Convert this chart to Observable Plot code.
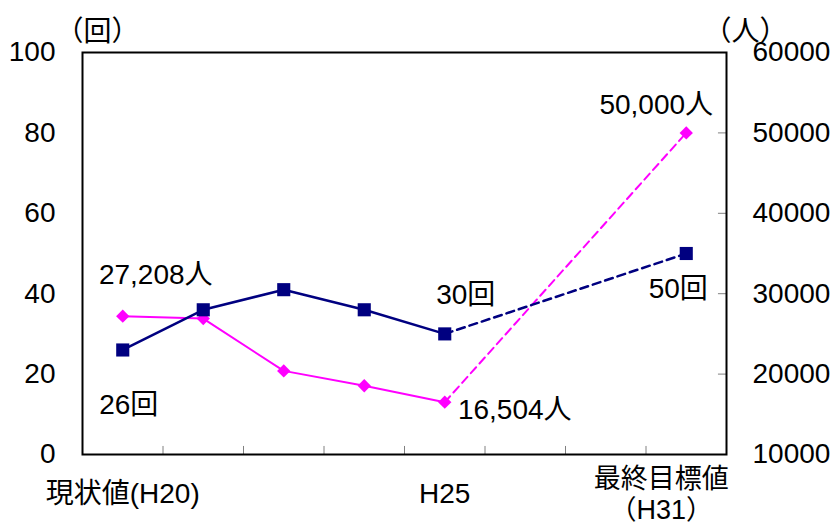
<!DOCTYPE html>
<html>
<head>
<meta charset="utf-8">
<script src="https://cdn.jsdelivr.net/npm/d3@7"></script>
<script src="https://cdn.jsdelivr.net/npm/@observablehq/plot@0.6"></script>
<style>
  html, body { margin: 0; padding: 0; background: #fff; }
</style>
</head>
<body>
<div id="chart"></div>
<script>
// Periods along the x axis (blank slots are the unlabeled intermediate years)
const periods = ["現状値(H20)", "", "", "", "H25", "", "", "最終目標値\n（H31）"];
// Number of sessions (回), left axis
const sessions = [26, 36, 41, 36, 30, null, null, 50];
// Number of participants (人), right axis
const participants = [27208, 26900, 20400, 18550, 16504, null, null, 50000];
const leftTicks = [0, 20, 40, 60, 80, 100];
const rightTicks = [10000, 20000, 30000, 40000, 50000, 60000];
const leftUnit = "（回）";
const rightUnit = "（人）";
const lastActual = 4; // H25: after this the line is the target (dashed)

const FONT = "'Liberation Sans', 'Noto Sans CJK JP', Arial, sans-serif";
const NAVY = "#000080";
const MAGENTA = "#ff00ff";

// map the right-axis domain onto the left-axis domain so both share one y scale
const toLeft = d3.scaleLinear([rightTicks[0], rightTicks[rightTicks.length - 1]],
                              [leftTicks[0], leftTicks[leftTicks.length - 1]]);

const rows = periods.map((label, i) => ({
  i, label, x: i + 0.5,
  s: sessions[i],
  n: participants[i],
  p: participants[i] == null ? null : toLeft(participants[i])
}));
const pts = rows.filter(d => d.s != null);
const actual = pts.filter(d => d.i <= lastActual);
const target = pts.filter(d => d.i >= lastActual);
const first = [pts[0]];
const base = pts.filter(d => d.i === lastActual);
const goal = [pts[pts.length - 1]];

const sLabel = d => `${d.s}回`;
const pLabel = d => `${d3.format(",")(d.n)}人`;

const label = (data, y, text, dx, dy) =>
  Plot.text(data, {x: "x", y, text, dx, dy, fontSize: 28, fill: "black", fontFamily: FONT});

const chart = Plot.plot({
  width: 835,
  height: 525,
  marginLeft: 82,
  marginRight: 109,
  marginTop: 52,
  marginBottom: 71,
  style: {fontFamily: FONT, background: "white", color: "black", overflow: "visible"},
  x: {domain: [0, periods.length], axis: null},
  y: {domain: [leftTicks[0], leftTicks[leftTicks.length - 1]], axis: null},
  marks: [
    // inner tick marks between periods
    Plot.ruleX(d3.range(1, periods.length), {y1: 0, y2: 2, stroke: "#808080", strokeWidth: 1}),
    // inner tick marks on the right axis
    Plot.ruleY(rightTicks.slice(1, -1).map(toLeft), {x1: periods.length - 0.1, x2: periods.length, stroke: "#808080", strokeWidth: 1}),

    // participants (人)
    Plot.line(actual, {x: "x", y: "p", stroke: MAGENTA, strokeWidth: 2}),
    Plot.line(target, {x: "x", y: "p", stroke: MAGENTA, strokeWidth: 2, strokeDasharray: "8,5"}),
    // sessions (回)
    Plot.line(actual, {x: "x", y: "s", stroke: NAVY, strokeWidth: 2.5}),
    Plot.line(target, {x: "x", y: "s", stroke: NAVY, strokeWidth: 2.5, strokeDasharray: "8,5"}),

    Plot.dot(pts, {x: "x", y: "p", symbol: "diamond2", r: 6, fill: MAGENTA, stroke: null}),
    Plot.dot(pts, {x: "x", y: "s", symbol: "square", r: 7.4, fill: NAVY, stroke: null}),

    Plot.frame({stroke: "black", strokeWidth: 2}),

    // axes
    Plot.axisY(leftTicks, {anchor: "left", tickSize: 0, tickPadding: 27, fontSize: 28, fontFamily: FONT, fill: "black"}),
    Plot.axisY(rightTicks.map(toLeft), {anchor: "right", tickSize: 0, tickPadding: 26, fontSize: 28, fontFamily: FONT, fill: "black",
      tickFormat: d => String(Math.round(toLeft.invert(d)))}),
    Plot.text([leftUnit], {frameAnchor: "top-left", textAnchor: "middle", dx: 15, dy: -31, fontSize: 28, fontFamily: FONT, fill: "black"}),
    Plot.text([rightUnit], {frameAnchor: "top-right", textAnchor: "middle", dx: 19, dy: -31, fontSize: 28, fontFamily: FONT, fill: "black"}),

    // period labels
    Plot.text(rows.filter(d => d.label && d.i < periods.length - 1), {x: "x", y: leftTicks[0], text: "label", dy: 40, fontSize: 28, fontFamily: FONT, fill: "black"}),
    Plot.text(rows.filter(d => d.i === periods.length - 1), {x: "x", y: leftTicks[0], text: "label", dx: -25, dy: 39, lineHeight: 1.17, fontSize: 27, fontFamily: FONT, fill: "black"}),

    // value labels
    label(first, "p", pLabel, 33, -41),
    label(first, "s", sLabel, 6, 55),
    label(base, "s", sLabel, 21, -39),
    label(base, "p", pLabel, 70, 8),
    label(goal, "p", pLabel, -30, -28),
    label(goal, "s", sLabel, -8, 36)
  ]
});

document.getElementById("chart").appendChild(chart);
</script>
</body>
</html>
